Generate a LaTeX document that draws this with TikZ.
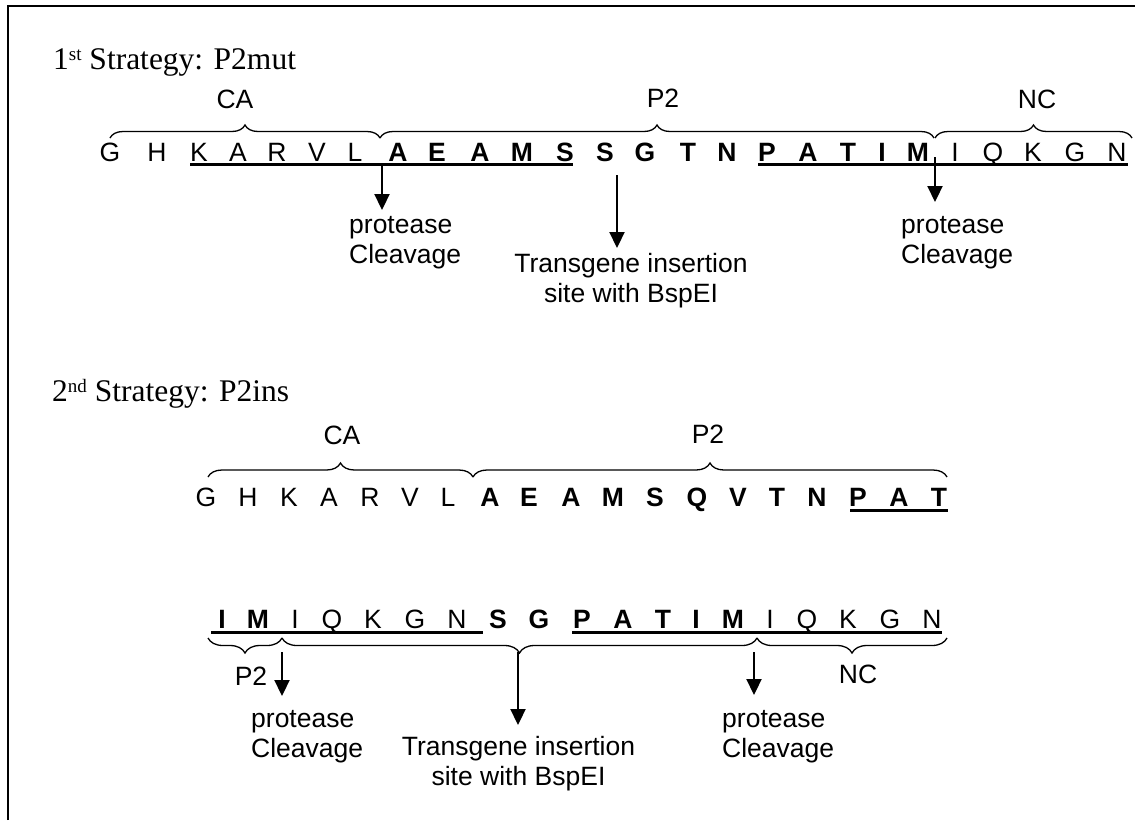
\documentclass[tikz,border=0pt]{standalone}
\usepackage{fontspec}
\setmainfont{Liberation Serif}
\newfontfamily\arialf{Liberation Sans}
\usetikzlibrary{decorations.pathreplacing,arrows.meta}
\begin{document}
\begin{tikzpicture}[x=1pt,y=-1pt,
  seq/.style={font=\arialf\fontsize{26.5}{30}\selectfont, anchor=base, inner sep=0pt},
  bseq/.style={font=\arialf\bfseries\fontsize{26.5}{30}\selectfont, anchor=base, inner sep=0pt},
  lbl/.style={font=\arialf\fontsize{26.5}{30}\selectfont, inner sep=0pt},
  ttl/.style={font=\fontsize{31.5}{36}\selectfont, anchor=base west, inner sep=0pt},
  brc/.style={decorate, decoration={brace, amplitude=#1}, line width=1.3pt},
  uline/.style={line width=2.6pt},
  arr/.style={line width=2.2pt, -{Triangle[length=16pt,width=15pt]}},
  framel/.style={line width=1.6pt}
]
\useasboundingbox (0,0) rectangle (1135,820);
% frame (only top and left edges visible)
\draw[framel] (8,820) -- (8,6) -- (1135,6);

% titles
\node[ttl] (t1) at (53,69) {1\raisebox{9pt}{\fontsize{19}{19}\selectfont st} Strategy: P2mut};
\node[ttl] (t2) at (52,401) {2\raisebox{9pt}{\fontsize{19}{19}\selectfont nd} Strategy: P2ins};

% ---------- line 1 ----------
\foreach \i/\x/\c in {1/110/G,2/157/H,3/199/K,4/238/A,5/277/R,6/317/V,7/355/L,
  22/955/I,23/993/Q,24/1033/K,25/1075/G,26/1117/N}
  \node[seq] (p\i) at (\x,161) {\c};
\foreach \i/\x/\c in {8/398/A,9/437/E,10/480/A,11/522/M,12/565/S,13/605/S,14/645/G,
  15/688/T,16/727/N,17/767/P,18/808/A,19/848/T,20/882/I,21/918/M}
  \node[bseq] (p\i) at (\x,161) {\c};
\coordinate (u1a) at (190,164.5); \coordinate (u1b) at (573,164.5);
\coordinate (u1c) at (758,164.5); \coordinate (u1d) at (1128,164.5);
\draw[uline] (u1a) -- (u1b);
\draw[uline] (u1c) -- (u1d);
% braces
\coordinate (b1a) at (110,138); \coordinate (b1b) at (380,138);
\coordinate (b1c) at (934,138); \coordinate (b1d) at (935,138);
\coordinate (b1e) at (1132,138);
\draw[brc=13] (b1a) -- (b1b);
\draw[brc=13] (b1b) -- (b1c);
\draw[brc=13] (b1d) -- (b1e);
\node[lbl, anchor=base] (ca1) at (235,108) {CA};
\node[lbl, anchor=base] (pp1) at (663,107) {P2};
\node[lbl, anchor=base] (nc1) at (1037,108) {NC};
% arrows
\coordinate (a1s) at (382,165); \coordinate (a1e) at (382,210);
\coordinate (a2s) at (617,175); \coordinate (a2e) at (617,248);
\coordinate (a3s) at (935,157); \coordinate (a3e) at (935,202);
\draw[arr] (a1s) -- (a1e);
\draw[arr] (a2s) -- (a2e);
\draw[arr] (a3s) -- (a3e);
\node[lbl, anchor=base west] (pc1) at (349,233) {\vtop{\hbox{protease}\hbox{Cleavage}}};
\node[lbl, anchor=base] (tg1) at (631,272) {\vtop{\halign{\hfil#\hfil\cr Transgene insertion\cr site with BspEI\cr}}};
\node[lbl, anchor=base west] (pc2) at (901,233) {\vtop{\hbox{protease}\hbox{Cleavage}}};

% ---------- line 2 ----------
\foreach \i/\x/\c in {1/206/G,2/248/H,3/289/K,4/329/A,5/370/R,6/410/V,7/448/L}
  \node[seq] (q\i) at (\x,506) {\c};
\foreach \i/\x/\c in {8/490/A,9/529/E,10/571/A,11/613/M,12/655/S,13/697/Q,14/738/V,
  15/777/T,16/817/N,17/858/P,18/899/A,19/939/T}
  \node[bseq] (q\i) at (\x,506) {\c};
\coordinate (u2a) at (850,510.5); \coordinate (u2b) at (948,510.5);
\draw[uline] (u2a) -- (u2b);
\coordinate (b2a) at (208,477); \coordinate (b2b) at (473,477); \coordinate (b2c) at (947,477);
\draw[brc=14] (b2a) -- (b2b);
\draw[brc=14] (b2b) -- (b2c);
\node[lbl, anchor=base] (ca2) at (342,444) {CA};
\node[lbl, anchor=base] (pp2) at (708,443) {P2};

% ---------- line 3 ----------
\foreach \i/\x/\c in {1/222/I,2/258/M,8/498/S,9/539/G,10/582/P,11/623/A,12/663/T,13/696/I,14/733/M}
  \node[bseq] (r\i) at (\x,628) {\c};
\foreach \i/\x/\c in {3/295/I,4/332/Q,5/373/K,6/415/G,7/457/N,15/770/I,16/807/Q,17/848/K,18/890/G,19/932/N}
  \node[seq] (r\i) at (\x,628) {\c};
\coordinate (u3a) at (211,632.5); \coordinate (u3b) at (483,632.5);
\coordinate (u3c) at (572,632.5); \coordinate (u3d) at (942,632.5);
\draw[uline] (u3a) -- (u3b);
\draw[uline] (u3c) -- (u3d);
\coordinate (b3a) at (208,638); \coordinate (b3b) at (282,638);
\coordinate (b3c) at (757,638); \coordinate (b3d) at (947,638);
\draw[brc=15] (b3b) -- (b3a);
\draw[brc=15] (b3c) -- (b3b);
\draw[brc=15] (b3d) -- (b3c);
\node[lbl, anchor=base] (pp3) at (251,685) {P2};
\node[lbl, anchor=base] (nc3) at (858,683) {NC};
\coordinate (a4s) at (282,652); \coordinate (a4e) at (282,696);
\coordinate (a5s) at (518,652); \coordinate (a5e) at (518,725);
\coordinate (a6s) at (754,652); \coordinate (a6e) at (754,695);
\draw[arr] (a4s) -- (a4e);
\draw[arr] (a5s) -- (a5e);
\draw[arr] (a6s) -- (a6e);
\node[lbl, anchor=base west] (pc3) at (251,727) {\vtop{\hbox{protease}\hbox{Cleavage}}};
\node[lbl, anchor=base] (tg2) at (518.5,755) {\vtop{\halign{\hfil#\hfil\cr Transgene insertion\cr site with BspEI\cr}}};
\node[lbl, anchor=base west] (pc4) at (722,727) {\vtop{\hbox{protease}\hbox{Cleavage}}};
\end{tikzpicture}
\end{document}
